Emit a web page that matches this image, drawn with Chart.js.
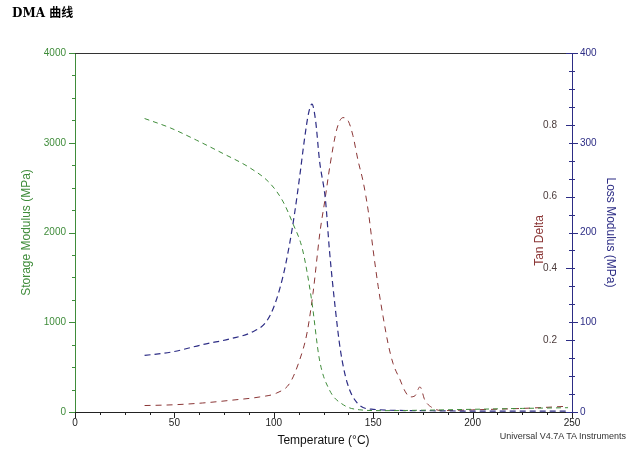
<!DOCTYPE html>
<html>
<head>
<meta charset="utf-8">
<title>DMA 曲线</title>
<script src="https://cdn.jsdelivr.net/npm/chart.js@4.4.0/dist/chart.umd.min.js"></script>
<style>
    html, body { margin: 0; padding: 0; background: #fff; }
    #wrap { position: relative; width: 637px; height: 458px; }
    #title {
        position: absolute; left: 12px; top: 3px;
        font: bold 12px "DejaVu Serif", "Noto Sans CJK SC", serif; color: #000;
    }
    #credit {
        position: absolute; right: 11px; top: 431px;
        font: 9px "Liberation Sans", Arial, sans-serif; color: #333;
    }
</style>
</head>
<body>
<div id="wrap">
    <canvas id="dmaChart" width="637" height="458"></canvas>
    <div id="title">DMA 曲线</div>
    <div id="credit">Universal V4.7A TA Instruments</div>
</div>
<script>
// ---- Data ----
const tempStorage = [35, 48, 61, 74, 88, 98, 104.5, 109.5, 114.5, 119, 123, 128, 135, 143, 155, 175, 200, 225, 248];
const storage     = [3270, 3165, 3030, 2885, 2720, 2550, 2350, 2105, 1805, 1250, 580, 245, 80, 25, 15, 20, 30, 40, 48];

const tempLoss = [35, 49, 64, 79, 89, 96, 100, 104.5, 108, 110.5, 113, 115.5, 117.5, 119.2, 121, 123, 126, 128, 131, 133.5, 137, 142, 150, 175, 200, 225, 248];
const loss     = [63, 67, 75, 82, 89, 100, 117, 150, 188, 222, 262, 305, 333, 343, 325, 280, 236, 180, 114, 69, 32, 10, 3, 1.5, 1, 1, 1];

const tempTan  = [35, 49, 64, 79, 93, 101.5, 108, 113, 116.7, 119.7, 123.2, 125.7, 128.3, 131.8, 134.8, 137.5, 139.8, 142.4, 145, 147.5, 150, 152.5, 155, 157.5, 160, 163.5, 166, 168.5, 171, 173.5, 176, 180, 184.5, 200, 225, 248];
const tanDelta = [0.018, 0.02, 0.025, 0.033, 0.042, 0.053, 0.08, 0.145, 0.22, 0.33, 0.5, 0.59, 0.688, 0.79, 0.82, 0.81, 0.77, 0.70, 0.64, 0.56, 0.45, 0.35, 0.265, 0.19, 0.135, 0.09, 0.058, 0.042, 0.045, 0.07, 0.033, 0.011, 0.004, 0.006, 0.01, 0.016];

const GREEN = '#3f8c3a';
const NAVY = '#2d2d85';
const BROWN = '#8a3535';

const pairs = (xs, ys) => xs.map((x, i) => ({ x: x, y: ys[i] }));

// Tick marks (major + minor), the top frame line and the inner "Tan Delta" title
const axisDecor = {
    id: 'axisDecor',
    afterDraw(chart) {
        const ctx = chart.ctx;
        const area = chart.chartArea;
        const marks = [
            { id: 'x',    step: 12.5, major: 50,   color: '#222', side: 'down' },
            { id: 'y',    step: 250,  major: 1000, color: GREEN,  side: 'left' },
            { id: 'tan',  step: 0.05, major: 0.2,  color: NAVY,   side: 'left', at: area.right },
            { id: 'loss', step: 20,   major: 100,  color: NAVY,   side: 'right' },
        ];
        ctx.save();
        ctx.lineWidth = 1;

        // top frame line
        ctx.strokeStyle = '#333';
        ctx.beginPath();
        ctx.moveTo(area.left, area.top + 0.5);
        ctx.lineTo(area.right, area.top + 0.5);
        ctx.stroke();

        marks.forEach(m => {
            const s = chart.scales[m.id];
            const n = Math.round((s.max - s.min) / m.step);
            ctx.strokeStyle = m.color;
            ctx.beginPath();
            for (let i = 0; i <= n; i++) {
                const v = s.min + i * m.step;
                const isMajor = Math.abs(v / m.major - Math.round(v / m.major)) < 1e-6;
                const len = isMajor ? 6 : 3;
                const p = Math.round(s.getPixelForValue(v)) + 0.5;
                if (m.side === 'down') {
                    ctx.moveTo(p, area.bottom);
                    ctx.lineTo(p, area.bottom + len);
                } else if (m.side === 'left') {
                    const x0 = m.at !== undefined ? m.at : area.left;
                    ctx.moveTo(x0, p);
                    ctx.lineTo(x0 - len, p);
                } else {
                    ctx.moveTo(area.right, p);
                    ctx.lineTo(area.right + len, p);
                }
            }
            ctx.stroke();
        });

        // Tan Delta title sits inside the plot, beside its mirrored labels
        ctx.fillStyle = BROWN;
        ctx.font = '12px "Liberation Sans", Arial, sans-serif';
        ctx.textAlign = 'center';
        ctx.textBaseline = 'middle';
        ctx.translate(540, (area.top + area.bottom) / 2 + 8);
        ctx.rotate(-Math.PI / 2);
        ctx.fillText('Tan Delta', 0, 0);
        ctx.restore();
    }
};

const tickFont = { family: '"Liberation Sans", Arial, sans-serif', size: 10 };
const titleFont = { family: '"Liberation Sans", Arial, sans-serif', size: 12 };

new Chart(document.getElementById('dmaChart'), {
    type: 'line',
    data: {
        datasets: [
            {
                label: 'Storage Modulus',
                data: pairs(tempStorage, storage),
                yAxisID: 'y',
                borderColor: GREEN,
                borderWidth: 1,
                borderDash: [5, 4],
                pointRadius: 0,
                cubicInterpolationMode: 'monotone',
            },
            {
                label: 'Loss Modulus',
                data: pairs(tempLoss, loss),
                yAxisID: 'loss',
                borderColor: NAVY,
                borderWidth: 1.2,
                borderDash: [6, 4],
                pointRadius: 0,
                cubicInterpolationMode: 'monotone',
            },
            {
                label: 'Tan Delta',
                data: pairs(tempTan, tanDelta),
                yAxisID: 'tan',
                borderColor: BROWN,
                borderWidth: 1,
                borderDash: [6, 5],
                pointRadius: 0,
                cubicInterpolationMode: 'monotone',
            },
        ],
    },
    options: {
        responsive: false,
        animation: false,
        layout: { padding: { left: 15, right: 15, top: 53, bottom: 6 } },
        plugins: {
            legend: { display: false },
            tooltip: { enabled: false },
        },
        scales: {
            x: {
                type: 'linear',
                min: 0,
                max: 250,
                afterFit: s => { s.height = 40; },
                grid: { drawOnChartArea: false, drawTicks: false },
                border: { color: '#222' },
                ticks: { stepSize: 50, padding: 5, color: '#222', font: tickFont },
                title: { display: true, text: 'Temperature (°C)', color: '#111', font: titleFont },
            },
            y: {
                position: 'left',
                min: 0,
                max: 4000,
                afterFit: s => { s.width = 60; },
                grid: { drawOnChartArea: false, drawTicks: false },
                border: { color: GREEN },
                ticks: { stepSize: 1000, padding: 9, color: GREEN, font: tickFont, callback: v => String(v) },
                title: { display: true, text: 'Storage Modulus (MPa)', color: GREEN, font: titleFont },
            },
            tan: {
                position: 'right',
                weight: 0,
                min: 0,
                max: 1,
                afterFit: s => { s.width = 0; },
                grid: { display: false, drawTicks: false },
                border: { display: false },
                ticks: {
                    stepSize: 0.2,
                    mirror: true,
                    padding: -15,
                    color: '#4a3a3a',
                    font: tickFont,
                    callback: v => (v > 0.01 && v < 0.99) ? v.toFixed(1) : '',
                },
            },
            loss: {
                position: 'right',
                weight: 1,
                min: 0,
                max: 400,
                afterFit: s => { s.width = 50; },
                grid: { drawOnChartArea: false, drawTicks: false },
                border: { color: NAVY },
                ticks: { stepSize: 100, padding: 8, color: NAVY, font: tickFont, callback: v => String(v) },
                title: { display: true, text: 'Loss Modulus (MPa)', color: NAVY, font: titleFont },
            },
        },
    },
    plugins: [axisDecor],
});
</script>
</body>
</html>
